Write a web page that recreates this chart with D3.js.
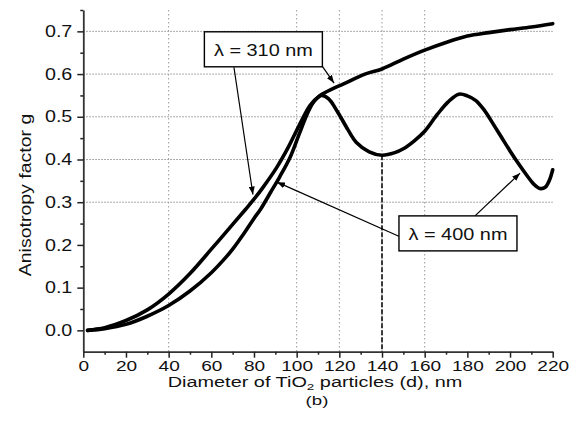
<!DOCTYPE html>
<html>
<head>
<meta charset="utf-8">
<script src="https://cdn.jsdelivr.net/npm/d3@7"></script>
<style>
  body { margin: 0; background: #fff; }
  text { font-family: "Liberation Sans", Arial, Helvetica, sans-serif; fill: #111; }
</style>
</head>
<body>
<svg id="chart" width="579" height="437"></svg>
<script>
// ---------- data ----------
const diam310 = [2, 10, 20, 30, 40, 50, 60, 70, 76, 80, 84.4, 90.6, 96.1, 101.6, 106.3, 111, 117, 122, 132, 140, 150, 160, 170, 180, 190, 200, 210, 220];
const g310    = [0, 0.006, 0.023, 0.048, 0.085, 0.133, 0.19, 0.248, 0.283, 0.307, 0.336, 0.381, 0.429, 0.484, 0.527, 0.55, 0.566, 0.577, 0.6, 0.612, 0.635, 0.656, 0.674, 0.689, 0.697, 0.704, 0.71, 0.718];

const diam400 = [2, 10, 20, 30, 40, 50, 60, 67, 70, 76, 80, 83, 88, 92, 97, 101, 105, 108, 111.5, 115, 119, 124, 128, 134, 140, 146, 150, 155, 160, 166, 171, 176, 180, 184, 188, 192, 196, 200, 204, 208, 211, 214, 216.5, 218.5, 220];
const g400    = [0, 0.004, 0.014, 0.033, 0.058, 0.092, 0.135, 0.172, 0.19, 0.232, 0.262, 0.283, 0.325, 0.359, 0.406, 0.457, 0.507, 0.535, 0.55, 0.542, 0.513, 0.47, 0.44, 0.418, 0.41, 0.416, 0.425, 0.443, 0.466, 0.506, 0.535, 0.553, 0.549, 0.538, 0.515, 0.484, 0.452, 0.42, 0.39, 0.362, 0.343, 0.332, 0.335, 0.352, 0.376];

const xMajorTicks = [0, 20, 40, 60, 80, 100, 120, 140, 160, 180, 200, 220];
const xMinorTicks = [10, 30, 50, 70, 90, 110, 130, 150, 170, 190, 210];
const yMajorTicks = [0.0, 0.1, 0.2, 0.3, 0.4, 0.5, 0.6, 0.7];
const yMinorTicks = [0.05, 0.15, 0.25, 0.35, 0.45, 0.55, 0.65, 0.75];
const xGridValues = [40, 100, 120, 140, 160];
const yGridValues = [0.3, 0.4, 0.5, 0.6, 0.7];

const xTitleMain = "Diameter of TiO";
const xTitleSub = "2";
const xTitleRest = " particles (d), nm";
const yTitle = "Anisotropy factor g";
const panelLabel = "(b)";

// annotations (data units)
const labelTexts   = ["\u03bb = 310 nm", "\u03bb = 400 nm"];
const labelDiam    = [84.4, 175.6];
const labelG       = [0.658, 0.227];
const leaderFromD  = [70.6, 111.9, 148.4, 183.6];
const leaderFromG  = [0.616, 0.619, 0.219, 0.268];
const leaderToD    = [79.5, 117.5, 90.8, 204.7];
const leaderToG    = [0.318, 0.579, 0.347, 0.368];
const minimumDiam  = 140;
const minimumG     = 0.41;

// ---------- layout ----------
const svg = d3.select("#chart");
const x = d3.scaleLinear().domain([0, 220]).range([83.3, 552.7]);
const y = d3.scaleLinear().domain([-0.05, 0.75]).range([351.7, 10]);

// the reference's glyphs are horizontally wider than Arial: stretch along the text direction
function stretch(sel, k, rotated) {
  sel.each(function () {
    const t = d3.select(this);
    const tx = +t.attr("x") || 0, ty = +t.attr("y") || 0;
    t.attr("x", 0).attr("y", 0)
     .attr("transform", `translate(${tx},${ty})` + (rotated ? " rotate(-90)" : "") + ` scale(${k},1)`);
  });
}

// grid
const grid = svg.append("g");
grid.selectAll(".hg").data(yGridValues).enter().append("line")
  .attr("x1", x(0)).attr("x2", x(220))
  .attr("y1", d => y(d)).attr("y2", d => y(d))
  .attr("stroke", "#8f8f8f").attr("stroke-width", 1).attr("stroke-dasharray", "1.5,1.5");
grid.selectAll(".vg").data(xGridValues).enter().append("line")
  .attr("x1", d => x(d)).attr("x2", d => x(d))
  .attr("y1", y(0.75)).attr("y2", y(-0.05))
  .attr("stroke", "#999").attr("stroke-width", 1).attr("stroke-dasharray", "1.5,2.5");

// dashed drop line at the first minimum
svg.append("line")
  .attr("x1", x(minimumDiam)).attr("x2", x(minimumDiam))
  .attr("y1", y(minimumG)).attr("y2", y(-0.05))
  .attr("stroke", "#000").attr("stroke-width", 1.5).attr("stroke-dasharray", "5,2");

// curves
const line = d3.line().x(d => x(d[0])).y(d => y(d[1])).curve(d3.curveCatmullRom.alpha(0.5));
const s310 = diam310.map((d, i) => [d, g310[i]]);
const s400 = diam400.map((d, i) => [d, g400[i]]);
[s400, s310].forEach(s => {
  svg.append("path").attr("d", line(s))
    .attr("fill", "none").attr("stroke", "#000").attr("stroke-width", 3.6)
    .attr("stroke-linecap", "round").attr("stroke-linejoin", "round");
});

// arrow marker
svg.append("defs").append("marker")
  .attr("id", "arr").attr("markerUnits", "userSpaceOnUse")
  .attr("markerWidth", 8).attr("markerHeight", 6)
  .attr("refX", 8).attr("refY", 3).attr("orient", "auto")
  .append("path").attr("d", "M0,0 L8,3 L0,6 Z").attr("fill", "#000");

// leader lines
leaderFromD.forEach((d, i) => {
  svg.append("line")
    .attr("x1", x(d)).attr("y1", y(leaderFromG[i]))
    .attr("x2", x(leaderToD[i])).attr("y2", y(leaderToG[i]))
    .attr("stroke", "#000").attr("stroke-width", 1.2)
    .attr("marker-end", "url(#arr)");
});

// label boxes
labelTexts.forEach((t, i) => {
  const cx = x(labelDiam[i]), cy = y(labelG[i]);
  svg.append("rect")
    .attr("x", cx - 59).attr("y", cy - 17.5).attr("width", 118).attr("height", 35)
    .attr("fill", "#fff").attr("stroke", "#000").attr("stroke-width", 1.4);
  const tx = svg.append("text").attr("x", cx).attr("y", cy + 6.5)
    .attr("text-anchor", "middle").attr("font-size", 17).text(t);
  stretch(tx, 1.17);
});

// axes
const axStyle = g => {
  g.select(".domain").attr("stroke", "#333").attr("stroke-width", 1.8);
  g.selectAll(".tick line").attr("stroke", "#222").attr("stroke-width", 1.5);
};
const xAxisG = svg.append("g").attr("transform", `translate(0,${y(-0.05)})`)
  .call(d3.axisBottom(x).tickValues(xMajorTicks).tickFormat(d3.format("d")).tickSize(6).tickSizeOuter(0).tickPadding(3.5));
xAxisG.call(axStyle);
xAxisG.selectAll("text").attr("font-size", 14).attr("fill", "#111")
  .attr("font-family", "Liberation Sans, Arial, sans-serif");
stretch(xAxisG.selectAll(".tick text"), 1.36);

svg.append("g").attr("transform", `translate(0,${y(-0.05)})`)
  .call(d3.axisBottom(x).tickValues(xMinorTicks).tickFormat("").tickSize(3).tickSizeOuter(0))
  .call(g => { g.select(".domain").remove(); g.selectAll(".tick line").attr("stroke", "#222").attr("stroke-width", 1.5); });

const yAxisG = svg.append("g").attr("transform", `translate(${x(0)},0)`)
  .call(d3.axisLeft(y).tickValues(yMajorTicks).tickFormat(d3.format(".1f")).tickSize(6).tickSizeOuter(0).tickPadding(5));
yAxisG.call(axStyle);
yAxisG.selectAll("text").attr("font-size", 16).attr("fill", "#111")
  .attr("font-family", "Liberation Sans, Arial, sans-serif");
stretch(yAxisG.selectAll(".tick text"), 1.23);

svg.append("g").attr("transform", `translate(${x(0)},0)`)
  .call(d3.axisLeft(y).tickValues(yMinorTicks).tickFormat("").tickSize(3).tickSizeOuter(0))
  .call(g => { g.select(".domain").remove(); g.selectAll(".tick line").attr("stroke", "#222").attr("stroke-width", 1.5); });

// titles
const xt = svg.append("text").attr("x", (x(0) + x(220)) / 2 - 3).attr("y", 387)
  .attr("text-anchor", "middle").attr("font-size", 14);
xt.append("tspan").text(xTitleMain);
xt.append("tspan").attr("font-size", 9.5).attr("dy", 3).text(xTitleSub);
xt.append("tspan").attr("dy", -3).text(xTitleRest);
stretch(xt, 1.42);

const pl = svg.append("text").attr("x", (x(0) + x(220)) / 2 - 1).attr("y", 404.5)
  .attr("text-anchor", "middle").attr("font-size", 13.5).text(panelLabel);
stretch(pl, 1.38);

const yt = svg.append("text").attr("x", 31).attr("y", 195)
  .attr("text-anchor", "middle").attr("font-size", 16).text(yTitle);
stretch(yt, 1.22, true);
</script>
</body>
</html>
